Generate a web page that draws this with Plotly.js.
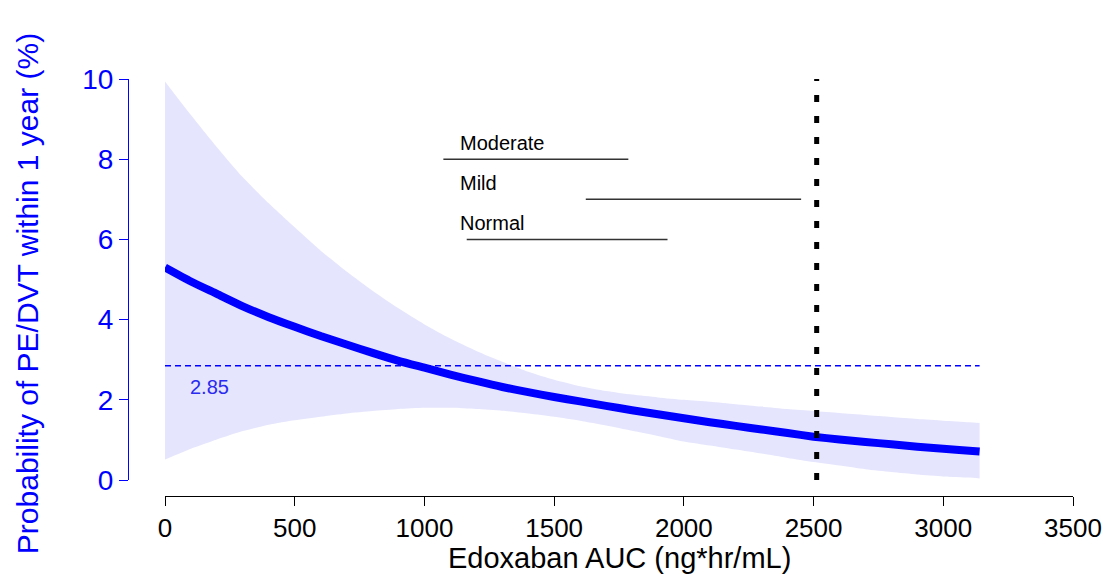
<!DOCTYPE html>
<html>
<head>
<meta charset="utf-8">
<script src="https://cdn.plot.ly/plotly-3.0.1.min.js"></script>
<style>
  html, body { margin: 0; padding: 0; background: #ffffff; }
  #chart { width: 1112px; height: 575px; }
</style>
</head>
<body>
<div id="chart"></div>
<script>
// Exposure grid (ng*hr/mL) shared by the fitted curve and its confidence band
const auc = [0, 100, 200, 300, 400, 500, 600, 700, 800, 900, 1000, 1100, 1200, 1300,
  1400, 1500, 1600, 1700, 1800, 1900, 2000, 2100, 2200, 2300, 2400, 2500, 2600,
  2700, 2800, 2900, 3000, 3100, 3140];

// Predicted probability of PE/DVT within 1 year (%)
const probability = [5.30, 4.95, 4.64, 4.33, 4.06, 3.82, 3.59, 3.38, 3.17, 2.97, 2.80,
  2.63, 2.47, 2.32, 2.19, 2.07, 1.96, 1.85, 1.74, 1.64, 1.54, 1.44, 1.35, 1.26, 1.17,
  1.08, 1.01, 0.95, 0.89, 0.83, 0.78, 0.73, 0.71];

// 95% confidence band
const upperCI = [9.94, 9.10, 8.30, 7.55, 6.90, 6.30, 5.72, 5.20, 4.72, 4.28, 3.88,
  3.53, 3.22, 2.95, 2.70, 2.50, 2.34, 2.22, 2.13, 2.06, 2.00, 1.95, 1.89, 1.83, 1.77,
  1.72, 1.67, 1.62, 1.57, 1.52, 1.48, 1.44, 1.42];
const lowerCI = [0.51, 0.78, 1.01, 1.22, 1.38, 1.49, 1.58, 1.66, 1.72, 1.77, 1.80,
  1.80, 1.77, 1.73, 1.66, 1.58, 1.48, 1.36, 1.23, 1.10, 0.96, 0.86, 0.76, 0.66, 0.55,
  0.45, 0.36, 0.27, 0.20, 0.14, 0.09, 0.06, 0.04];

// Reference rate and cut-off exposure
const referenceRate = 2.85;
const referenceLabel = '2.85';
const cutoffAuc = 2512;

// Exposure ranges by renal function group
const groups = ['Moderate', 'Mild', 'Normal'];
const groupLevel = [8, 7, 6];
const groupStart = [1073, 1622, 1163];
const groupEnd = [1786, 2452, 1937];
const groupLabelAuc = 1128;

const xTicks = [0, 500, 1000, 1500, 2000, 2500, 3000, 3500];
const yTicks = [0, 2, 4, 6, 8, 10];

const FONT = 'Arial, "Liberation Sans", Helvetica, sans-serif';
const BLUE = '#0000ff';

const traces = [
  {
    x: auc, y: lowerCI, type: 'scatter', mode: 'lines',
    line: { width: 0, shape: 'spline', smoothing: 0.6 },
    hoverinfo: 'skip', showlegend: false
  },
  {
    x: auc, y: upperCI, type: 'scatter', mode: 'lines',
    fill: 'tonexty', fillcolor: '#e5e5fd',
    line: { width: 0, shape: 'spline', smoothing: 0.6 },
    hoverinfo: 'skip', showlegend: false
  },
  {
    x: [0, auc[auc.length - 1]], y: [referenceRate, referenceRate],
    type: 'scatter', mode: 'lines',
    line: { color: BLUE, width: 1.5, dash: '6px,4px' },
    showlegend: false
  },
  {
    x: auc, y: probability, type: 'scatter', mode: 'lines',
    line: { color: BLUE, width: 8, shape: 'spline', smoothing: 0.6 },
    showlegend: false
  },
  {
    x: [cutoffAuc, cutoffAuc], y: [0, 10], type: 'scatter', mode: 'lines',
    line: { color: '#000000', width: 5, dash: '7px,14px' },
    showlegend: false
  }
];

groups.forEach((g, i) => {
  traces.push({
    x: [groupStart[i], groupEnd[i]], y: [groupLevel[i], groupLevel[i]],
    type: 'scatter', mode: 'lines',
    line: { color: '#333333', width: 1.5 },
    showlegend: false
  });
});

const annotations = groups.map((g, i) => ({
  x: groupLabelAuc, y: groupLevel[i] + 0.4, xref: 'x', yref: 'y',
  text: g, showarrow: false, xanchor: 'left', yanchor: 'middle',
  font: { family: FONT, size: 20, color: '#000000' }
}));
annotations.push({
  x: 90, y: 2.31, xref: 'x', yref: 'y', text: referenceLabel,
  showarrow: false, xanchor: 'left', yanchor: 'middle',
  font: { family: FONT, size: 20, color: '#2a2af0' }
});
// Axis titles placed in paper coordinates around the detached axes
annotations.push({
  x: -0.106, y: 0.486, xref: 'paper', yref: 'paper',
  text: 'Probability of PE/DVT within 1 year (%)', textangle: -90,
  showarrow: false, xanchor: 'center', yanchor: 'middle',
  font: { family: FONT, size: 30, color: BLUE }
});
annotations.push({
  x: (619 - 128) / 945, y: (496 - 558) / 417, xref: 'paper', yref: 'paper',
  text: 'Edoxaban AUC (ng*hr/mL)',
  showarrow: false, xanchor: 'center', yanchor: 'middle',
  font: { family: FONT, size: 29, color: '#000000' }
});

const layout = {
  width: 1112, height: 575,
  margin: { l: 128, r: 39, t: 79, b: 79, pad: 0 },
  paper_bgcolor: '#ffffff', plot_bgcolor: '#ffffff',
  showlegend: false,
  xaxis: {
    domain: [37 / 945, 1], range: [0, 3500], anchor: 'free', position: 0,
    showgrid: false, zeroline: false,
    showline: true, linecolor: '#000000', linewidth: 1,
    ticks: 'outside', ticklen: 9, tickwidth: 1, tickcolor: '#000000',
    tickmode: 'array', tickvals: xTicks, ticktext: xTicks.map(String),
    tickfont: { family: FONT, size: 26, color: '#000000' }
  },
  yaxis: {
    domain: [16 / 417, 1], range: [0, 10], anchor: 'free', position: 0,
    showgrid: false, zeroline: false,
    showline: true, linecolor: BLUE, linewidth: 1,
    ticks: 'outside', ticklen: 9, tickwidth: 1, tickcolor: BLUE,
    tickmode: 'array', tickvals: yTicks, ticktext: yTicks.map(String),
    tickfont: { family: FONT, size: 28, color: BLUE }
  },
  annotations: annotations
};

Plotly.newPlot('chart', traces, layout, { staticPlot: true, displayModeBar: false });
</script>
</body>
</html>
